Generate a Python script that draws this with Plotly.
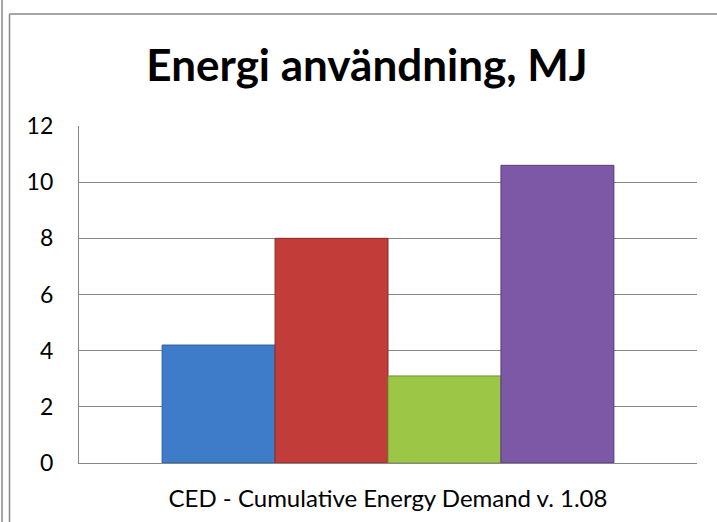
import plotly.graph_objects as go

category = ["CED - Cumulative Energy Demand v. 1.08"]
series_names = ["Serie 1", "Serie 2", "Serie 3", "Serie 4"]
series_values = [4.2, 8.0, 3.1, 10.6]
series_colors = ["#3E7CCA", "#C23C3A", "#9CC645", "#7C58A6"]
edge_colors = ["#2C5E9E", "#8E2A28", "#6F9430", "#573C7C"]
y_ticks = [0, 2, 4, 6, 8, 10, 12]
title_text = "Energi användning, MJ"

W, H = 717, 522
L, R, T, B = 79, 697, 126, 463

fig = go.Figure()
for name, val, col, ec in zip(series_names, series_values, series_colors, edge_colors):
    fig.add_trace(go.Bar(
        x=category, y=[val], name=name,
        marker=dict(color=col, line=dict(color=ec, width=1)),
        showlegend=False,
    ))

def px_x(p):
    return (p - L) / (R - L)

def px_y(p):
    return (B - p) / (B - T)

grey = "#878787"
shapes = [
    dict(type="line", xref="paper", yref="paper", x0=px_x(2), x1=px_x(2), y0=px_y(-5), y1=px_y(530), line=dict(color=grey, width=1.5)),
    dict(type="line", xref="paper", yref="paper", x0=px_x(9.5), x1=px_x(9.5), y0=px_y(530), y1=px_y(14), line=dict(color=grey, width=1.5)),
    dict(type="line", xref="paper", yref="paper", x0=px_x(9.5), x1=px_x(730), y0=px_y(14), y1=px_y(14), line=dict(color=grey, width=1.5)),
]

fig.update_layout(
    width=W, height=H,
    margin=dict(l=L, r=W - R, t=T, b=H - B, autoexpand=False),
    paper_bgcolor="white", plot_bgcolor="white",
    barmode="group", bargap=0.269, bargroupgap=0,
    font=dict(family="Lato, Noto Sans, sans-serif", color="#000000"),
    title=dict(text=f"<b>{title_text}</b>", x=367 / W, xanchor="center",
               y=1 - 66 / H, yanchor="middle", xref="container", yref="container",
               font=dict(size=44, family="Lato, sans-serif", color="#000000")),
    shapes=shapes,
)
fig.update_yaxes(range=[0, 12], tickvals=y_ticks, showgrid=True, gridcolor=grey, gridwidth=1.3,
                 showline=True, linecolor=grey, linewidth=1.3, zeroline=False, automargin=False,
                 ticks="", ticklabelstandoff=20, tickfont=dict(size=23))
fig.update_xaxes(showline=True, linecolor=grey, linewidth=1.3, ticks="", automargin=False,
                 ticklabelstandoff=14, tickfont=dict(size=24))

fig.write_html("out.html")
